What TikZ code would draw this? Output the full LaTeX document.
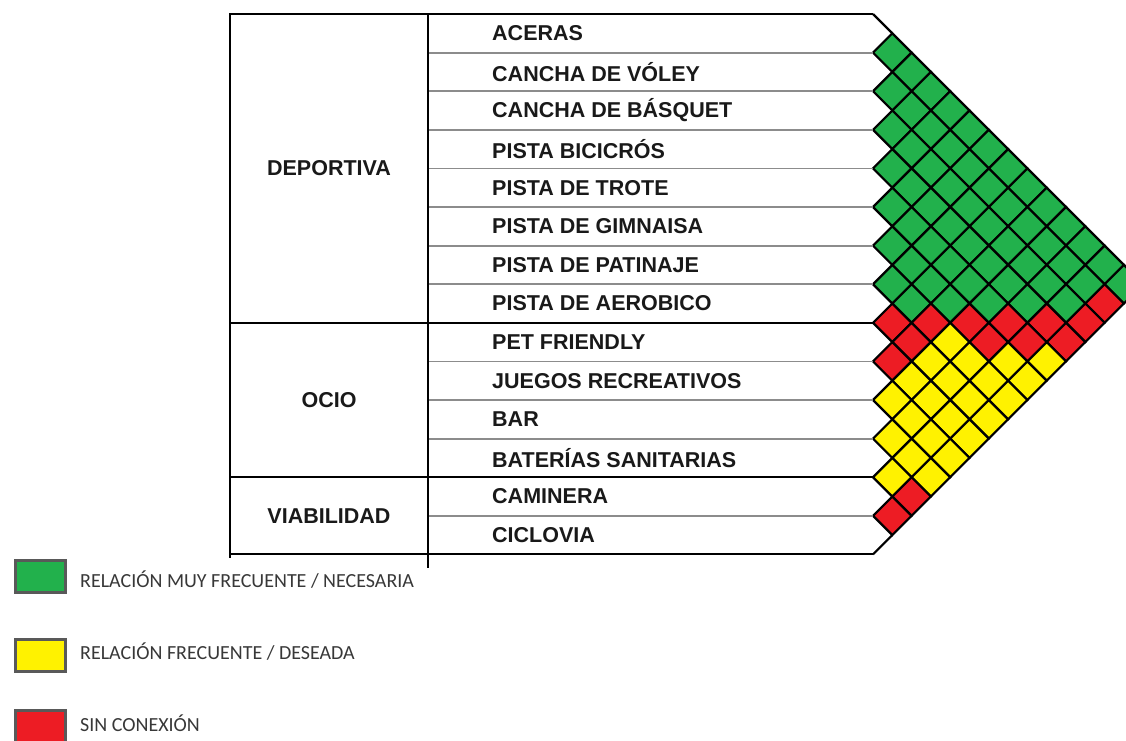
\documentclass[tikz,border=0pt]{standalone}
\usepackage{fontspec}
\setmainfont{Liberation Sans}
\newfontfamily\leyendafont{Carlito}
\definecolor{verde}{HTML}{22B14C}
\definecolor{amarillo}{HTML}{FFF200}
\definecolor{rojo}{HTML}{ED1C24}
\tikzset{
	celda/.style={draw=black, line width=2.2pt, line join=miter},
	fila/.style={anchor=west, inner sep=0pt, text=black!90, font=\fontsize{21.5}{24}\selectfont\bfseries},
	categoria/.style={text=black!90, font=\fontsize{21.5}{24}\selectfont\bfseries},
	borde/.style={draw=black, line width=2pt},
	linea/.style={draw=black!45, line width=1.8pt},
	leyenda/.style={draw=black!65, line width=3pt, minimum width=50pt, minimum height=32pt, inner sep=0pt},
	textoleyenda/.style={anchor=west, inner sep=0pt, text=black!78, font=\leyendafont\fontsize{20}{24}\selectfont},
	% celdas sin conexion
	c1-13/.style={fill=rojo}, c7-8/.style={fill=rojo}, c6-9/.style={fill=rojo},
	c5-10/.style={fill=rojo}, c4-11/.style={fill=rojo}, c3-12/.style={fill=rojo},
	c2-13/.style={fill=rojo}, c7-9/.style={fill=rojo}, c5-11/.style={fill=rojo},
	c4-12/.style={fill=rojo}, c3-13/.style={fill=rojo}, c8-9/.style={fill=rojo},
	c11-13/.style={fill=rojo}, c12-13/.style={fill=rojo},
	c6-10/.style={fill=amarillo}
}
\begin{document}
\begin{tikzpicture}[x=1pt, y=-1pt]
	\useasboundingbox (0,0) rectangle (1126,740);
	
	% matriz de relaciones
	\foreach \i in {0,...,12}{
		\pgfmathtruncatemacro\jo{\i+1}
		\foreach \j in {\jo,...,13}{
			\pgfmathtruncatemacro\s{\i+\j}
			\pgfmathsetmacro\cx{873+(\j-\i)*19.3}
			\pgfmathsetmacro\cy{14+(\i+\j+1)*19.3}
			\ifnum\s<15 \def\tono{verde}\else\def\tono{amarillo}\fi
			\draw[celda, fill=\tono, c\i-\j/.try] (\cx-19.3,\cy) -- (\cx,\cy-19.3) -- (\cx+19.3,\cy) -- (\cx,\cy+19.3) -- cycle;
		}
	}
	
	% tabla
	\foreach \k in {1,...,13}
		\draw[linea] (428,14+38.6*\k) -- (873,14+38.6*\k);
	\draw[borde] (873,14) -- (230,14) -- (230,558);
	\draw[borde] (428,14) -- (428,568);
	\draw[borde] (230,322.8) -- (873,322.8);
	\draw[borde] (230,477.2) -- (873,477.2);
	\draw[borde] (230,554.4) -- (873,554.4);
	\draw[celda] (873,14) -- (892.3,33.3);
	\draw[celda] (873,554.4) -- (892.3,535.1);
	
	\foreach \t [count=\k from 0] in {ACERAS, CANCHA DE VÓLEY, CANCHA DE BÁSQUET, PISTA BICICRÓS, PISTA DE TROTE, PISTA DE GIMNAISA, PISTA DE PATINAJE, PISTA DE AEROBICO, PET FRIENDLY, JUEGOS RECREATIVOS, BAR, BATERÍAS SANITARIAS, CAMINERA, CICLOVIA}
		\node[fila] (f\k) at (492,33.3+38.6*\k) {\t};
	
	\node[categoria] (deportiva) at (329,168.4) {DEPORTIVA};
	\node[categoria] (ocio) at (329,400) {OCIO};
	\node[categoria] (viabilidad) at (329,515.8) {VIABILIDAD};
	
	% leyenda
	\node[leyenda, fill=verde] (lverde) at (40.5,576.5) {};
	\node[leyenda, fill=amarillo] (lamarillo) at (40.5,655) {};
	\node[leyenda, fill=rojo] (lrojo) at (40.5,726) {};
	\node[textoleyenda] (tverde) at (80,580) {RELACIÓN MUY FRECUENTE / NECESARIA};
	\node[textoleyenda] (tamarillo) at (80,652) {RELACIÓN FRECUENTE / DESEADA};
	\node[textoleyenda] (trojo) at (80,723) {SIN CONEXIÓN};
\end{tikzpicture}
\end{document}
